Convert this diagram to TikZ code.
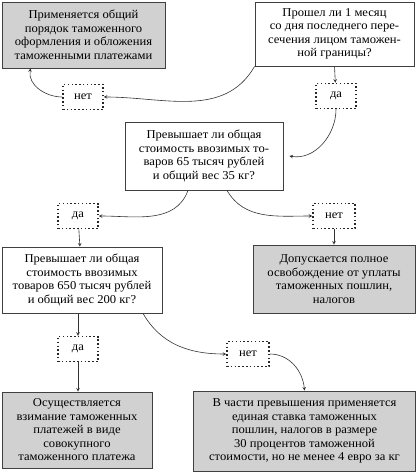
\documentclass[tikz,border=0pt]{standalone}
\usepackage{fontspec}
\setmainfont{Liberation Serif}[FakeStretch=1.05]
\begin{document}
\begin{tikzpicture}[x=1pt, y=-1pt, font=\fontsize{12}{13.5}\selectfont,
	box/.style={draw=black!75, line width=0.8pt, align=center, inner sep=0pt},
	res/.style={box, fill=black!18},
	ans/.style={draw=black!85, dash pattern=on 1.5pt off 2.3pt, line width=1.5pt, minimum width=40pt, minimum height=25pt, inner sep=0pt},
	arr/.style={-stealth, draw=black!80, line width=0.6pt}]
	\useasboundingbox (0,0) rectangle (417,473);
	\node[res, minimum width=163pt, minimum height=66pt] (general) at (83.5,35) {Применяется общий\\порядок таможенного\\оформления и обложения\\таможенными платежами};
	\node[box, minimum width=159pt, minimum height=64pt] (month) at (334.5,34) {Прошел ли 1 месяц\\со дня последнего пере-\\сечения лицом таможен-\\ной границы?};
	\node[ans] (no1) at (83,97) {нет};
	\node[ans] (yes1) at (336,96) {да};
	\node[box, minimum width=158pt, minimum height=68pt] (sum65) at (204,156) {Превышает ли общая\\стоимость ввозимых то-\\варов 65 тысяч рублей\\и общий вес 35 кг?};
	\node[ans] (yes2) at (78,216) {да};
	\node[ans, minimum width=42pt] (no2) at (334,216) {нет};
	\node[box, minimum width=160pt, minimum height=66pt] (sum650) at (82,280) {Превышает ли общая\\стоимость ввозимых\\товаров 650 тысяч рублей\\и общий вес 200 кг?};
	\node[res, minimum width=162pt, minimum height=68pt] (free) at (334,279) {Допускается полное\\освобождение от уплаты\\таможенных пошлин,\\налогов};
	\node[ans] (yes3) at (78,349) {да};
	\node[ans, minimum width=42pt] (no3) at (248,354) {нет};
	\node[res, minimum width=150pt, minimum height=76pt] (total) at (77,430) {Осуществляется\\взимание таможенных\\платежей в виде\\совокупного\\таможенного платежа};
	\node[res, minimum width=222pt, minimum height=80pt] (rate) at (304.5,431) {В части превышения применяется\\единая ставка таможенных\\пошлин, налогов в размере\\30 процентов таможенной\\стоимости, но не менее 4 евро за кг};

	\draw[arr] (month.south west) to[out=-120, in=0] (no1);
	\draw[arr] (no1) to[out=180, in=-100] ([xshift=-53pt]general.south);
	\draw[arr] (month.south) -- (yes1);
	\draw[arr] (yes1) to[out=-90, in=-10] ([xshift=6pt]sum65.east);
	\draw[arr] ([xshift=-16pt]sum65.south) to[out=-110, in=0] (yes2);
	\draw[arr] ([xshift=23pt]sum65.south) to[out=-60, in=180] (no2);
	\draw[arr] (no2) -- (free);
	\draw[arr] (yes2) -- (sum650);
	\draw[arr] (sum650.south -| yes3) -- (yes3);
	\draw[arr] (yes3) -- (total.north -| yes3);
	\draw[arr] ([xshift=61pt]sum650.south) to[out=-60, in=180] (no3);
	\draw[arr] (no3) to[out=0, in=95] (rate.north);
\end{tikzpicture}
\end{document}
